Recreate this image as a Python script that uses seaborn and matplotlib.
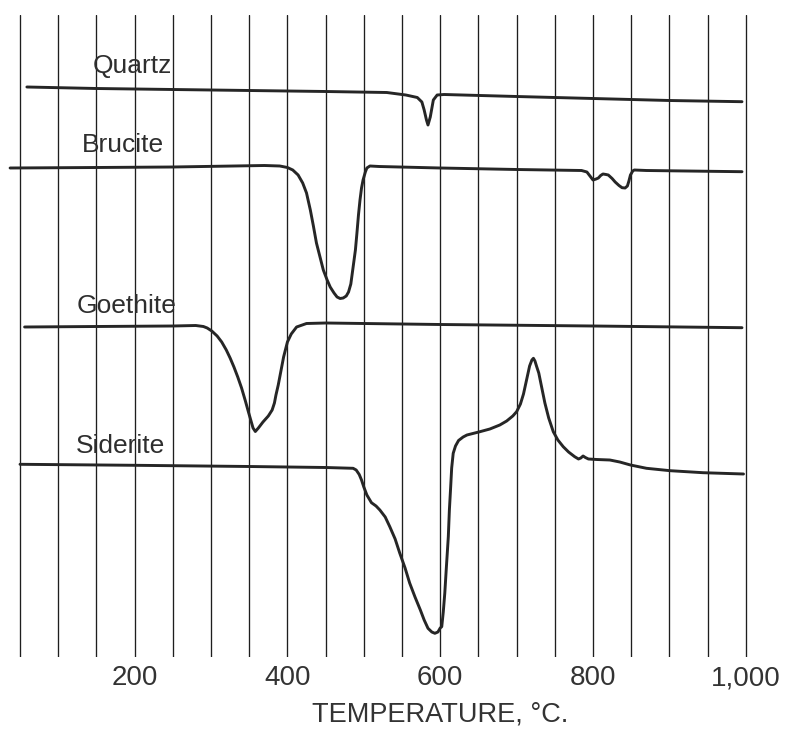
import matplotlib
matplotlib.use('Agg')
import matplotlib.pyplot as plt
import seaborn as sns
import numpy as np

# DTA curves: temperature (deg C) and pen position (arbitrary, downward = endothermic)
quartz_t = [59, 150, 300, 450, 530, 555, 570, 576, 579, 582, 584, 587, 591, 596, 605, 700, 800, 900, 995]
quartz_y = [87, 88.5, 90, 91.5, 92.5, 95, 97.5, 102, 110, 120, 125, 117, 100, 95, 94.5, 96.5, 98.5, 100.5, 101.7]

brucite_t = [37, 150, 250, 330, 370, 390, 400, 407, 414, 420, 425, 430, 434, 438, 443, 447, 452, 456, 461, 465,
             469, 473, 477, 480, 483, 486, 489, 491, 493, 495, 497, 499, 502, 504, 508, 520, 600, 700, 785, 792,
             797, 800, 804, 807, 810, 813, 817, 820, 825, 829, 834, 838, 842, 845, 847, 849, 852, 854, 870, 995]
brucite_y = [168, 167.5, 167, 166, 165.5, 166, 167.5, 170, 175, 183, 193, 210, 226, 243, 258, 270, 280, 287, 293, 297,
             298.5, 298, 296, 292, 284, 267, 250, 233, 215, 200, 188, 180, 172, 168, 166, 166.5, 168, 169.5, 170.5, 172,
             177, 180, 179, 178, 175.5, 174, 174.5, 175, 178.5, 182, 185.5, 187.7, 188, 186, 181, 175, 171, 170, 170.5, 171.7]

goethite_t = [56, 150, 250, 280, 290, 295, 301, 308, 314, 320, 325, 330, 335, 340, 345, 349, 352, 355, 358, 362,
              368, 375, 380, 383, 385, 388, 390, 393, 395, 398, 400, 405, 412, 425, 450, 600, 800, 995]
goethite_y = [327, 326.5, 326, 325.5, 326.5, 328, 331, 336, 342, 350, 358, 367, 377, 388, 401, 412, 420, 428, 431.5, 428,
              422, 416, 410, 403, 395, 385, 377, 365, 357, 348, 342, 334, 327, 323.5, 323, 324.5, 326, 327.7]

siderite_t = [50, 200, 350, 450, 486, 490, 494, 497, 500, 504, 510, 516, 521, 528, 534, 541, 547, 554, 560, 567,
              574, 579, 584, 589, 593, 597, 600, 602, 604, 606, 608, 610.6, 612, 613.7, 615, 617, 620, 624, 630, 635,
              652, 665, 678, 687, 695, 700, 705, 709, 713, 717, 720, 722, 724, 726, 729, 733, 737, 742, 748, 754,
              761, 768, 776, 781, 784, 787, 790, 794, 805, 822, 835, 849, 870, 901, 944, 997]
siderite_y = [464.3, 465.3, 466.5, 467.5, 468.3, 470, 474.5, 480, 487, 495, 502.7, 506, 510, 517, 526.7, 539, 553, 568, 583, 597,
              610, 620, 628.3, 632, 633.3, 632, 628, 626.7, 612, 593, 568, 536.7, 510, 486.7, 468, 453.3, 446, 440.5, 437, 435,
              431.7, 429, 425, 421, 416, 411.7, 404, 394, 380, 366, 360, 358.3, 361, 366, 373, 388, 403, 418, 431.7, 440,
              446.7, 452, 456.7, 459, 458, 456, 457.5, 459, 459.5, 460, 462, 465, 468.3, 470.7, 472.7, 474]

curves = [
    ("Quartz", quartz_t, quartz_y, 145.5, 73),
    ("Brucite", brucite_t, brucite_y, 131, 151.7),
    ("Goethite", goethite_t, goethite_y, 123.5, 312.7),
    ("Siderite", siderite_t, siderite_y, 123.5, 453.3),
]

grid_temps = list(range(50, 1001, 50))
tick_temps = [200, 400, 600, 800, 1000]
tick_labels = ["200", "400", "600", "800", "1,000"]

sns.set_theme(style="white")
plt.rcParams['font.family'] = ['Liberation Sans', 'DejaVu Sans']

fig = plt.figure(figsize=(7.86, 7.31), dpi=100)
ax = fig.add_axes([0, 74 / 731, 1, 642 / 731])

ink = '#262626'
for name, t, y, lx, ly in curves:
    sns.lineplot(x=t, y=y, ax=ax, color=ink, linewidth=2.1, sort=False, estimator=None)
    ax.text(lx, ly, name, fontsize=19, color='#2e2e2e', ha='left', va='baseline')

for g in grid_temps:
    ax.axvline(g, color='#1e1e1e', linewidth=0.95, zorder=0)

ax.set_xlim(23.8, 1052.6)
ax.set_ylim(657, 15)
ax.set_xticks(tick_temps)
ax.set_xticklabels(tick_labels, fontsize=20, color='#333333')
ax.set_yticks([])
ax.tick_params(axis='x', length=0, pad=6)
for s in ax.spines.values():
    s.set_visible(False)

ax.set_xlabel("TEMPERATURE, °C.", fontsize=19.5, color='#333333')
ax.xaxis.set_label_coords(0.5604, -0.070)

plt.savefig("out.png", dpi=100, facecolor='white')
plt.close()
